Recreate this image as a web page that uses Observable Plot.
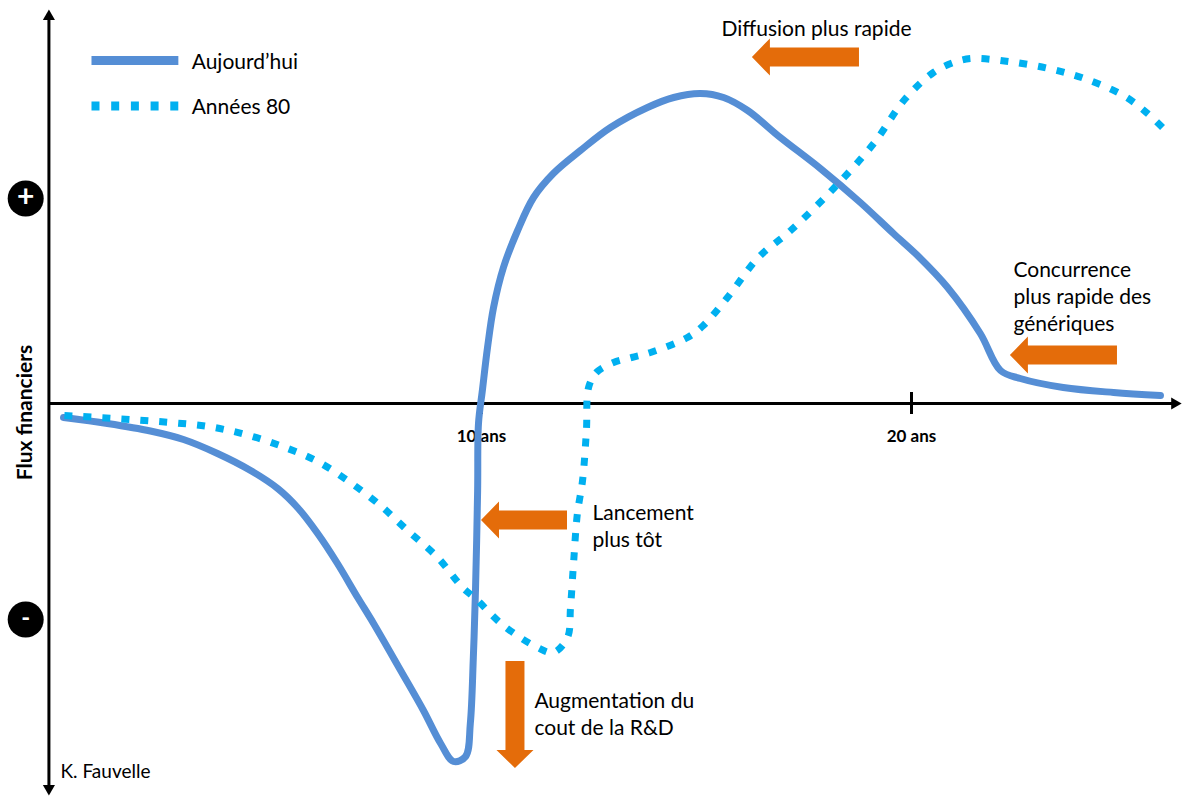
<!DOCTYPE html>
<html>
<head>
<meta charset="utf-8">
<script src="https://cdn.jsdelivr.net/npm/d3@7"></script>
<script src="https://cdn.jsdelivr.net/npm/@observablehq/plot@0.6"></script>
<style>
  html, body { margin: 0; padding: 0; background: white; overflow: hidden; }
  #chart svg { display: block; }
</style>
</head>
<body>
<div id="chart"></div>
<script>
// ---- Data (years, arbitrary financial-flow units) ----
const todayYears = [0.28, 1.30, 2.30, 3.07, 3.86, 4.63, 5.26, 5.72, 6.19, 6.65, 7.12, 7.49, 8.12, 8.65, 9.05, 9.35, 9.63, 9.74, 9.81, 9.86, 9.91, 9.93, 10.02, 10.14, 10.28, 10.51, 10.84, 11.21, 11.67, 12.30, 13.00, 13.86, 14.47, 15.09, 15.63, 16.19, 16.95, 17.88, 18.81, 19.58, 20.14, 20.84, 21.60, 22.07, 22.53, 23.53, 24.70, 25.79];
const todayFlux  = [-1.4, -2.0, -2.75, -3.6, -5.0, -6.7, -8.5, -10.4, -13.0, -16.0, -19.4, -22.0, -26.7, -30.7, -34.0, -35.8, -35.3, -32.0, -25.4, -18.7, -8.7, -2.0, 1.3, 5.6, 9.6, 13.6, 17.3, 20.6, 23.0, 25.3, 27.6, 29.6, 30.6, 31.0, 30.6, 29.3, 26.6, 23.5, 20.1, 17.0, 14.8, 11.6, 7.0, 3.3, 2.5, 1.6, 1.1, 0.8];

const eightiesYears = [0.30, 1.84, 2.77, 3.65, 4.51, 5.37, 6.19, 6.95, 7.65, 8.28, 8.98, 9.56, 9.86, 10.51, 11.30, 11.67, 12.00, 12.07, 12.14, 12.23, 12.35, 12.44, 12.49, 12.67, 13.07, 13.49, 13.93, 14.79, 15.16, 15.72, 16.44, 17.19, 18.21, 19.12, 19.86, 20.51, 20.98, 21.40, 22.26, 23.19, 24.02, 24.93, 25.49, 25.91];
const eightiesFlux  = [-1.2, -1.6, -1.9, -2.3, -3.1, -4.3, -5.8, -7.9, -10.2, -12.7, -15.4, -18.4, -19.5, -22.2, -24.4, -24.9, -23.4, -20.4, -16.0, -11.0, -7.7, -2.7, 1.6, 3.1, 4.1, 4.6, 5.1, 6.6, 7.8, 10.6, 14.6, 17.3, 21.6, 26.0, 30.5, 33.1, 34.1, 34.5, 34.2, 33.5, 32.5, 30.8, 29.0, 27.3];

const tickYears = [10, 20];
const tickLabels = ["10 ans", "20 ans"];

const seriesNames = ["Aujourd\u2019hui", "Ann\u00e9es 80"];

// Annotation texts and anchor positions (data units)
const noteTexts = ["Diffusion plus rapide", "Concurrence\nplus rapide des\ng\u00e9n\u00e9riques", "Lancement\nplus t\u00f4t", "Augmentation du\ncout de la R&D"];
const noteX = [15.58, 22.37, 12.58, 11.23];
const noteY = [38.6, 14.5, -9.8, -28.6];

// Orange block arrows: tail -> tip (data units)
const arrowTailX = [18.79, 24.79, 12.00, 10.79];
const arrowTailY = [34.6, 4.8, -11.7, -25.8];
const arrowTipX  = [16.30, 22.30, 10.00, 10.79];
const arrowTipY  = [34.6, 4.8, -11.7, -36.5];

// ---- Tables ----
const today = todayYears.map((x, i) => ({x, y: todayFlux[i]}));
const eighties = eightiesYears.map((x, i) => ({x, y: eightiesFlux[i]}));
const notes = noteTexts.map((t, i) => ({t, x: noteX[i], y: noteY[i]}));
const arrows = arrowTailX.map((x1, i) => ({x1, y1: arrowTailY[i], x2: arrowTipX[i], y2: arrowTipY[i]}));
const ticks = tickYears.map((x, i) => ({x, label: tickLabels[i]}));

const blue = "#558ED5", cyan = "#00B0F0", orange = "#E46C0A";
const font = "Lato, 'Open Sans', sans-serif";

// block arrow renderer using the plot's scales
function blockArrows(data) {
  return (index, scales) => {
    const g = d3.create("svg:g");
    for (const a of data) {
      const x1 = scales.x(a.x1), y1 = scales.y(a.y1), x2 = scales.x(a.x2), y2 = scales.y(a.y2);
      const dx = x2 - x1, dy = y2 - y1, L = Math.hypot(dx, dy);
      const ux = dx / L, uy = dy / L, nx = -uy, ny = ux;
      const bw = 9.5, hw = 18.5, hl = 18;
      const bx = x2 - ux * hl, by = y2 - uy * hl;
      const pts = [
        [x1 + nx * bw, y1 + ny * bw], [bx + nx * bw, by + ny * bw], [bx + nx * hw, by + ny * hw],
        [x2, y2],
        [bx - nx * hw, by - ny * hw], [bx - nx * bw, by - ny * bw], [x1 - nx * bw, y1 - ny * bw]
      ];
      g.append("path").attr("d", "M" + pts.map(p => p.join(",")).join("L") + "Z").attr("fill", orange);
    }
    return g.node();
  };
}

// axis geometry (data units)
const yAxisX = -0.06, yAxisTop = 38.7, yAxisBottom = -38.5, xAxisEnd = 26.12;

const chart = Plot.plot({
  width: 1182,
  height: 796,
  margin: 0,
  x: {domain: [0, 20], range: [51, 911], axis: null},
  y: {domain: [-20, 20], range: [603, 203], axis: null},
  style: {fontFamily: font, background: "white", color: "black"},
  marks: [
    // axes
    Plot.link([0], {x1: yAxisX, x2: yAxisX, y1: yAxisBottom, y2: yAxisTop, stroke: "black", strokeWidth: 3}),
    Plot.link([0], {x1: yAxisX, x2: xAxisEnd, y1: 0, y2: 0, stroke: "black", strokeWidth: 3}),
    Plot.dot([0], {x: yAxisX, y: yAxisTop, symbol: "triangle", r: 4.5, fill: "black", stroke: null}),
    Plot.dot([0], {x: yAxisX, y: yAxisBottom, symbol: "triangle", r: 4.5, fill: "black", stroke: null, rotate: 180}),
    Plot.dot([0], {x: xAxisEnd, y: 0, symbol: "triangle", r: 4.5, fill: "black", stroke: null, rotate: 90}),
    Plot.ruleX(ticks, {x: "x", y1: -1.1, y2: 1.1, stroke: "black", strokeWidth: 3}),
    Plot.text(ticks, {x: "x", y: -3.3, text: "label", fontSize: 17, fontWeight: "bold", fill: "black"}),
    // + / - markers
    Plot.dot([20.5, -21.6], {x: -0.6, y: d => d, r: 18, fill: "black", stroke: null}),
    Plot.text(["+"], {x: -0.6, y: 20.5, text: d => d, fill: "white", fontSize: 30, fontWeight: "bold", dy: -1}),
    Plot.text(["-"], {x: -0.6, y: -21.6, text: d => d, fill: "white", fontSize: 24, fontWeight: "bold", dy: -1}),
    // y label
    Plot.text(["Flux financiers"], {x: -0.6, y: -0.9, text: d => d, rotate: -90, fontSize: 21, fontWeight: "bold", fill: "black"}),
    // curves
    Plot.line(today, {x: "x", y: "y", stroke: blue, strokeWidth: 7, curve: "catmull-rom", strokeLinejoin: "round", strokeLinecap: "round"}),
    Plot.line(eighties, {x: "x", y: "y", stroke: cyan, strokeWidth: 7, strokeDasharray: "8,11", strokeLinecap: "butt", strokeLinejoin: "miter", curve: "catmull-rom"}),
    // orange arrows
    blockArrows(arrows),
    // annotations
    Plot.text(notes, {x: "x", y: "y", text: "t", textAnchor: "start", lineAnchor: "top", lineHeight: 1.27, fontSize: 21, fill: "black"}),
    // legend
    Plot.link([0], {x1: 0.93, x2: 2.95, y1: 34.3, y2: 34.3, stroke: blue, strokeWidth: 9}),
    Plot.link([0], {x1: 0.93, x2: 2.95, y1: 29.75, y2: 29.75, stroke: cyan, strokeWidth: 9, strokeDasharray: "8,11.7", strokeLinecap: "butt"}),
    Plot.text(seriesNames, {x: 3.26, y: (d, i) => [34.9, 30.4][i], text: d => d, textAnchor: "start", lineAnchor: "top", fontSize: 21, fill: "black"}),
    // credit
    Plot.text(["K. Fauvelle"], {x: 0.21, y: -36.1, text: d => d, textAnchor: "start", lineAnchor: "top", fontSize: 19, fill: "black"})
  ]
});
document.getElementById("chart").appendChild(chart);
</script>
</body>
</html>
